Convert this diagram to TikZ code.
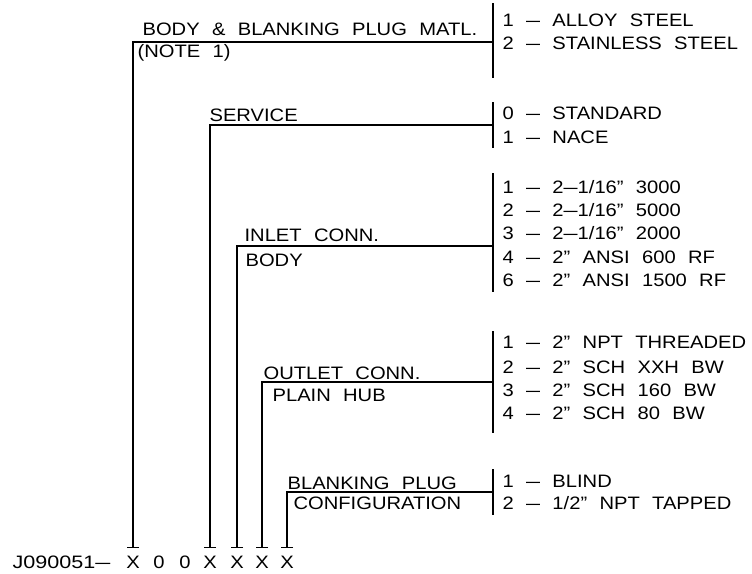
\documentclass[tikz,border=0pt]{standalone}
\usepackage{fontspec}
\setmainfont{Liberation Sans}[FakeStretch=1.12, WordSpace=2.2]
\usetikzlibrary{arrows.meta}
\newcommand\dsh{\scalebox{1.25}[1]{–}}
\begin{document}
\begin{tikzpicture}[x=1pt,y=-1pt,line width=1.2pt,
  lbl/.style={anchor=base west,inner sep=0pt,font=\fontsize{18}{20}\selectfont},
  opt/.style={lbl},
  digit/.style={anchor=base,inner xsep=0pt,inner ysep=7pt,font=\fontsize{18}{20}\selectfont},
  barline/.style={line width=1.2pt},
  lead/.style={-{Bar[width=12pt,line width=1.2pt]}}]
\useasboundingbox (0,0) rectangle (752,573);

% code line
\node[lbl] (code) at (12,568) {\scalebox{1.07}[1]{J090051\dsh}};
\node[digit] (x1) at (133,568) {X};
\node[digit] (z1) at (159,568) {0};
\node[digit] (z2) at (185,568) {0};
\node[digit] (x2) at (210,568) {X};
\node[digit] (x3) at (237,568) {X};
\node[digit] (x4) at (262,568) {X};
\node[digit] (x5) at (287,568) {X};

% group 1
\draw[barline] (493,3) -- (493,78);
\node[lbl] (l1a) at (142,35) {BODY \& BLANKING PLUG MATL.};
\node[lbl] (l1b) at (137,57) {(NOTE 1)};
\node[opt] (o11) at (502,26.5) {1 \dsh{} ALLOY STEEL};
\node[opt] (o12) at (502,49.5) {2 \dsh{} STAINLESS STEEL};
\coordinate (j1) at (493,42);
\draw[lead] (j1) -| (x1.north);

% group 2
\draw[barline] (493,102) -- (493,148);
\node[lbl] (l2a) at (209,121.5) {SERVICE};
\node[opt] (o21) at (502,119.5) {0 \dsh{} STANDARD};
\node[opt] (o22) at (502,143.5) {1 \dsh{} NACE};
\coordinate (j2) at (493,125);
\draw[lead] (j2) -| (x2.north);

% group 3
\draw[barline] (493,173) -- (493,292);
\node[lbl] (l3a) at (244,241.5) {INLET CONN.};
\node[lbl] (l3b) at (245,266.5) {BODY};
\node[opt] (o31) at (502,193.5) {1 \dsh{} 2\dsh1/16” 3000};
\node[opt] (o32) at (502,216.5) {2 \dsh{} 2\dsh1/16” 5000};
\node[opt] (o33) at (502,239.5) {3 \dsh{} 2\dsh1/16” 2000};
\node[opt] (o34) at (502,263.5) {4 \dsh{} 2” ANSI 600 RF};
\node[opt] (o36) at (502,286.5) {6 \dsh{} 2” ANSI 1500 RF};
\coordinate (j3) at (493,246);
\draw[lead] (j3) -| (x3.north);

% group 4
\draw[barline] (493,331) -- (493,433);
\node[lbl] (l4a) at (263,379.5) {OUTLET CONN.};
\node[lbl] (l4b) at (272,401.5) {PLAIN HUB};
\node[opt] (o41) at (502,348.5) {1 \dsh{} 2” NPT THREADED};
\node[opt] (o42) at (502,373.5) {2 \dsh{} 2” SCH XXH BW};
\node[opt] (o43) at (502,396.5) {3 \dsh{} 2” SCH 160 BW};
\node[opt] (o44) at (502,419.5) {4 \dsh{} 2” SCH 80 BW};
\coordinate (j4) at (493,382);
\draw[lead] (j4) -| (x4.north);

% group 5
\draw[barline] (493,469) -- (493,515);
\node[lbl] (l5a) at (287,489.5) {BLANKING PLUG};
\node[lbl] (l5b) at (293,509.5) {CONFIGURATION};
\node[opt] (o51) at (502,487.5) {1 \dsh{} BLIND};
\node[opt] (o52) at (502,509.5) {2 \dsh{} 1/2” NPT TAPPED};
\coordinate (j5) at (493,492);
\draw[lead] (j5) -| (x5.north);
\end{tikzpicture}
\end{document}
